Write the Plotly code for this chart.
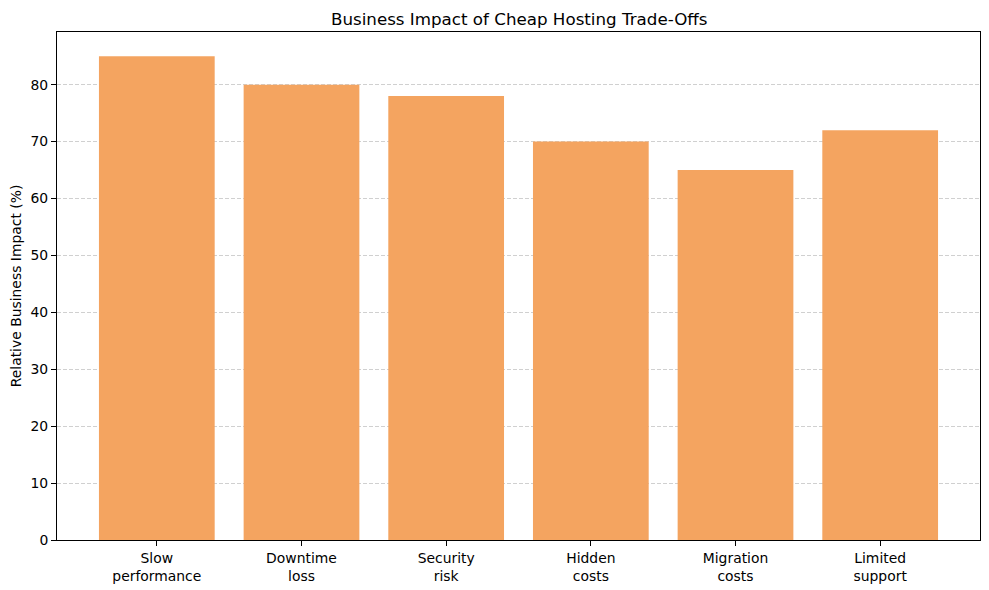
import plotly.graph_objects as go

# trade-off categories and their relative impact (%)
categories = ["Slow<br>performance", "Downtime<br>loss", "Security<br>risk",
              "Hidden<br>costs", "Migration<br>costs", "Limited<br>support"]
impact = [85, 80, 78, 70, 65, 72]
y_ticks = [0, 10, 20, 30, 40, 50, 60, 70, 80]

fig = go.Figure()
fig.add_trace(go.Bar(
    x=categories, y=impact,
    marker=dict(color="#F4A460", line=dict(width=0)),
    width=0.8,
))

axis_common = dict(
    showline=True, linecolor="black", linewidth=1, mirror=True,
    ticks="outside", ticklen=5, tickwidth=1, tickcolor="black",
    tickfont=dict(size=13.9, color="black"),
    zeroline=False, automargin=False,
)

fig.update_layout(
    width=989, height=590,
    margin=dict(l=57, r=9, t=32, b=50),
    paper_bgcolor="white", plot_bgcolor="white",
    font=dict(family="DejaVu Sans", size=13.9, color="black"),
    title=dict(text="Business Impact of Cheap Hosting Trade-Offs",
               x=0.525, xanchor="center", y=0.968, yanchor="middle",
               font=dict(size=16.7, color="black")),
    showlegend=False,
    bargap=0.2,
)
fig.update_xaxes(range=[-0.69, 5.69], showgrid=False, **axis_common)
fig.update_yaxes(range=[0, 89.25], tickvals=y_ticks, showgrid=True,
                 gridcolor="#d0d0d0", griddash="4px,2px", gridwidth=0.8,
                 title=dict(text="Relative Business Impact (%)", standoff=5,
                            font=dict(size=13.9)),
                 **axis_common)

# page body has a default margin, drop it so the figure sits at 0,0
fig.write_html("out.html", config={"displayModeBar": False},
               post_script="document.body.style.margin='0px';")
